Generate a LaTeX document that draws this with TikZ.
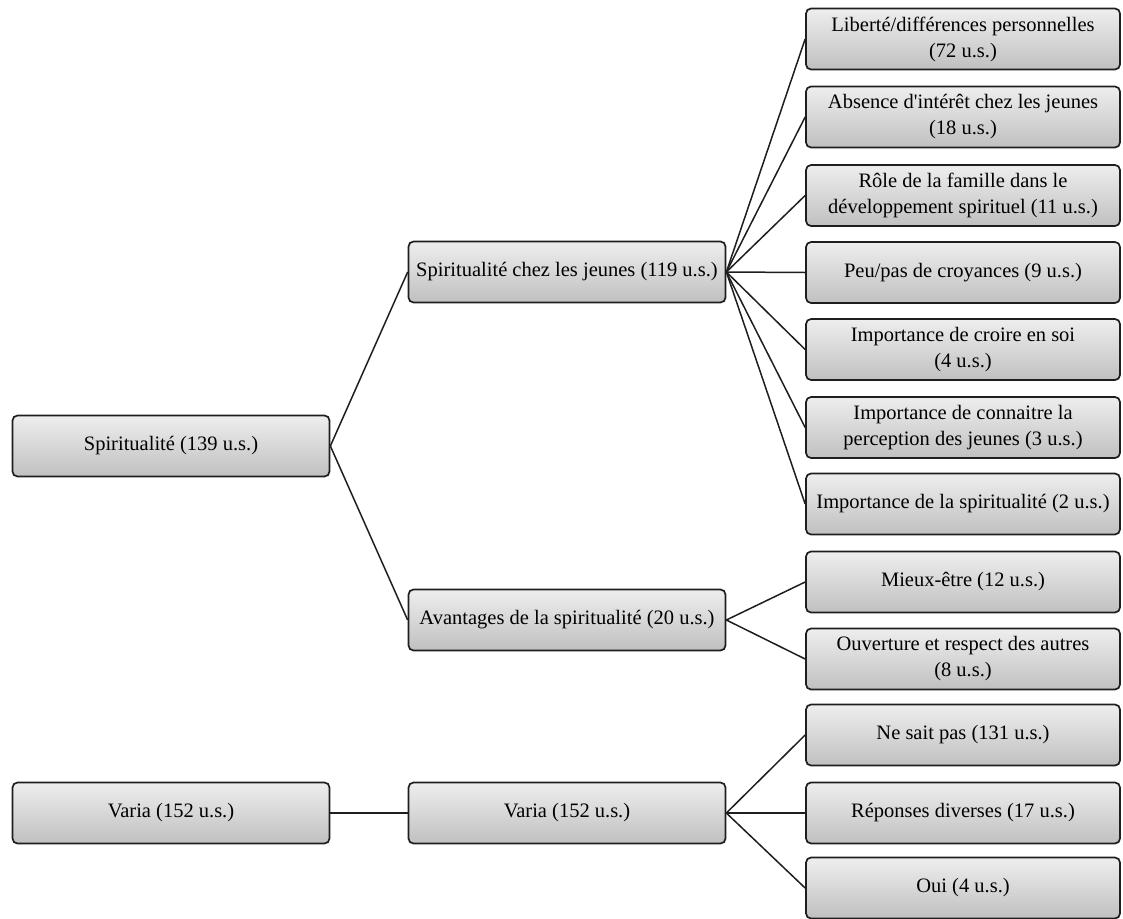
\documentclass[tikz,border=0pt]{standalone}
\usepackage{fontspec}
\setmainfont{Liberation Serif}
\definecolor{boxtop}{RGB}{238,238,238}
\definecolor{boxbot}{RGB}{192,192,192}
\definecolor{edge}{RGB}{30,30,30}
\begin{document}
\begin{tikzpicture}[x=1pt,y=-1pt,
  cat/.style={draw=edge, line width=1.7pt, rounded corners=5pt,
    top color=boxtop, bottom color=boxbot,
    minimum height=61pt, align=center, inner sep=2pt,
    font=\fontsize{20.5}{26}\selectfont},
  lvlA/.style={cat, minimum width=317pt},
  lvlB/.style={cat, minimum width=317pt},
  lvlC/.style={cat, minimum width=314pt},
  link/.style={draw=edge, line width=1.5pt}]
\useasboundingbox (0,0) rectangle (1123,918);

% first level
\node[lvlA] (spi) at (171,446) {Spiritualité (139 u.s.)};
\node[lvlA] (varA) at (171,813) {Varia (152 u.s.)};

% second level
\node[lvlB] (jeunes) at (567,272) {Spiritualité chez les jeunes (119 u.s.)};
\node[lvlB] (avant) at (567,620) {Avantages de la spiritualité (20 u.s.)};
\node[lvlB] (varB) at (567,813) {Varia (152 u.s.)};

% third level
\node[lvlC] (c1) at (963,39) {Liberté/différences personnelles\\(72 u.s.)};
\node[lvlC] (c2) at (963,117) {Absence d\textquotesingle intérêt chez les jeunes\\(18 u.s.)};
\node[lvlC] (c3) at (963,195.5) {Rôle de la famille dans le\\développement spirituel (11 u.s.)};
\node[lvlC] (c4) at (963,272.5) {Peu/pas de croyances (9 u.s.)};
\node[lvlC] (c5) at (963,349.5) {Importance de croire en soi\\(4 u.s.)};
\node[lvlC] (c6) at (963,427.5) {Importance de connaitre la\\perception des jeunes (3 u.s.)};
\node[lvlC] (c7) at (963,504) {Importance de la spiritualité (2 u.s.)};
\node[lvlC] (d1) at (963,582) {Mieux-être (12 u.s.)};
\node[lvlC] (d2) at (963,659) {Ouverture et respect des autres\\(8 u.s.)};
\node[lvlC] (e1) at (963,735) {Ne sait pas (131 u.s.)};
\node[lvlC] (e2) at (963,813) {Réponses diverses (17 u.s.)};
\node[lvlC] (e3) at (963,888) {Oui (4 u.s.)};

% connectors
\foreach \t in {jeunes,avant} \draw[link] (spi.east) -- (\t.west);
\draw[link] (varA.east) -- (varB.west);
\foreach \t in {c1,c2,c3,c4,c5,c6,c7} \draw[link] (jeunes.east) -- (\t.west);
\foreach \t in {d1,d2} \draw[link] (avant.east) -- (\t.west);
\foreach \t in {e1,e2,e3} \draw[link] (varB.east) -- (\t.west);
\end{tikzpicture}
\end{document}
